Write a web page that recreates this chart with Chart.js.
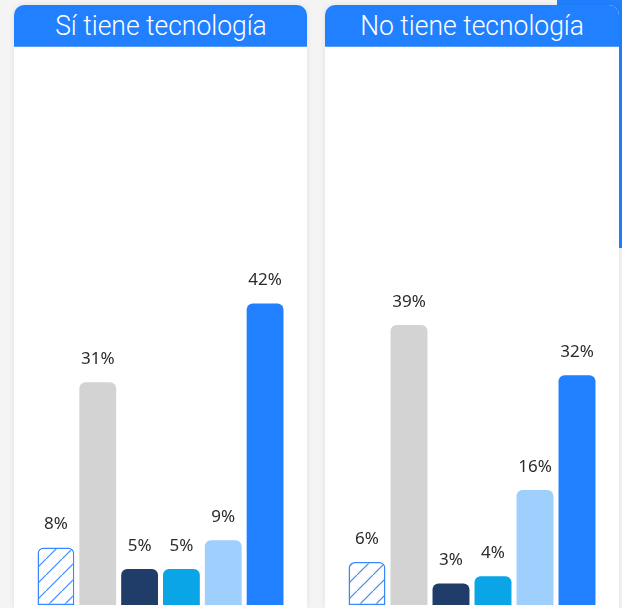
<!DOCTYPE html>
<html>
<head>
<meta charset="utf-8">
<script src="https://cdn.jsdelivr.net/npm/chart.js@4"></script>
<style>
  html, body { margin:0; padding:0; width:622px; height:608px; overflow:hidden; background:#f4f4f4; }
  .behind { position:absolute; left:557px; top:-20px; width:120px; height:268px; background:#2180ff; border-radius:10px; }
  .card { position:absolute; top:5px; background:#fff; box-shadow:0 0 6px rgba(0,0,0,0.08); border-radius:10px 10px 0 0; overflow:hidden; }
  .hdr { height:42px; background:#2180ff; color:#fff; text-align:center; border-bottom:1px solid #5a9fff; box-sizing:border-box; white-space:nowrap; }
  .hdr span { display:inline-block; font-family:"Roboto", sans-serif; font-size:27px; font-weight:300; line-height:42px; transform:scaleX(0.98); transform-origin:center; }
  .cv { position:relative; width:100%; height:559px; }
</style>
</head>
<body>
<div class="behind"></div>
<div class="card" id="c1" style="left:14px; width:293px; height:603px;">
  <div class="hdr"><span id="t1"></span></div>
  <div class="cv"><canvas id="ch1"></canvas></div>
</div>
<div class="card" id="c2" style="left:325px; width:294px; height:603px;">
  <div class="hdr"><span id="t2"></span></div>
  <div class="cv"><canvas id="ch2"></canvas></div>
</div>
<script>
const titles = ["Sí tiene tecnología", "No tiene tecnología"];
const categories = ["A", "B", "C", "D", "E", "F"];
const valuesSi = [8, 31, 5, 5, 9, 42];
const valuesNo = [6, 39, 3, 4, 16, 32];
const barColors = ["hatch", "#d3d3d3", "#1f3d68", "#0aa5e6", "#9fcffd", "#2180ff"];

document.getElementById('t1').textContent = titles[0];
document.getElementById('t2').textContent = titles[1];

function makeHatch() {
  const c = document.createElement('canvas');
  c.width = 16; c.height = 16;
  const g = c.getContext('2d');
  g.fillStyle = '#ffffff'; g.fillRect(0,0,16,16);
  g.strokeStyle = '#3a88ff'; g.lineWidth = 1.2;
  g.beginPath();
  g.moveTo(-2, 18); g.lineTo(18, -2);
  g.stroke();
  return g.createPattern(c, 'repeat');
}

const labelPlugin = {
  id: 'valLabels',
  afterDatasetsDraw(chart) {
    const ctx = chart.ctx;
    const meta = chart.getDatasetMeta(0);
    ctx.save();
    ctx.font = '17px "Noto Sans", sans-serif';
    ctx.fillStyle = '#2b2b2b';
    ctx.textAlign = 'center';
    ctx.textBaseline = 'middle';
    meta.data.forEach((el, i) => {
      const v = chart.data.datasets[0].data[i];
      ctx.fillText(v + '%', el.x, el.y - 23);
    });
    ctx.restore();
  }
};

function build(id, values) {
  const ctx = document.getElementById(id).getContext('2d');
  const hatch = makeHatch();
  const bg = barColors.map(c => c === 'hatch' ? hatch : c);
  const bc = barColors.map(c => c === 'hatch' ? '#3a88ff' : 'rgba(0,0,0,0)');
  const bw = barColors.map(c => c === 'hatch' ? 1.5 : 0);
  new Chart(ctx, {
    type: 'bar',
    data: {
      labels: categories,
      datasets: [{
        data: values,
        backgroundColor: bg,
        borderColor: bc,
        borderWidth: bw,
        borderRadius: { topLeft: 6, topRight: 6, bottomLeft: 0, bottomRight: 0 },
        borderSkipped: false,
        barPercentage: 0.88,
        categoryPercentage: 1.0
      }]
    },
    options: {
      responsive: true,
      maintainAspectRatio: false,
      animation: false,
      layout: { padding: { left: 21, right: 21, top: 0, bottom: 1 } },
      plugins: { legend: { display: false }, tooltip: { enabled: false } },
      scales: {
        x: { display: false },
        y: { display: false, min: 0, max: 77.7 }
      }
    },
    plugins: [labelPlugin]
  });
}
build('ch1', valuesSi);
build('ch2', valuesNo);
</script>
</body>
</html>
